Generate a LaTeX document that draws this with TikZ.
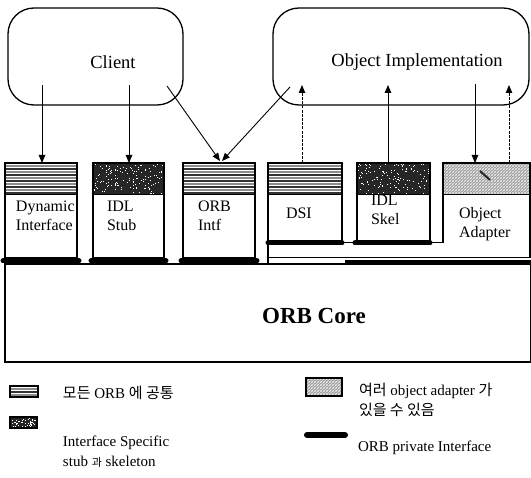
\documentclass[tikz,border=0pt]{standalone}
\usepackage{fontspec}
\setmainfont{Liberation Serif}
\newfontfamily\kr{Noto Sans CJK KR}
\usetikzlibrary{arrows.meta,patterns,calc}

% horizontal stripe band: x1, y1, x2, y2
\newcommand\hstripes[4]{%
  \fill[white] (#1,#2) rectangle (#3,#4);
  \pgfmathtruncatemacro\nst{(#4-#2-2)/3}%
  \foreach \c in {1,...,\nst}{%
    \pgfmathsetmacro\yy{#2+3*\c}%
    \ifodd\c\relax
      \draw[line width=1.1pt, black!45] (#1,\yy) -- (#3,\yy);
    \else
      \draw[line width=1.1pt, black!80] (#1,\yy) -- (#3,\yy);
    \fi
  }%
}
% dark speckled band: x1, y1, x2, y2, number of specks
\newcommand\noiseband[5]{%
  \fill[black!85] (#1,#2) rectangle (#3,#4);
  \foreach \i in {1,...,#5}{%
    \pgfmathsetmacro\px{#1+1+rnd*(#3-#1-2)}%
    \pgfmathsetmacro\py{#2+1+rnd*(#4-#2-2)}%
    \fill[white] (\px,\py) rectangle ++(1,1);
  }%
}
% grey diagonal mesh band: x1, y1, x2, y2
\newcommand\meshband[4]{%
  \fill[black!40] (#1,#2) rectangle (#3,#4);
  \fill[pattern=north east lines, pattern color=white] (#1,#2) rectangle (#3,#4);
  \fill[pattern=north west lines, pattern color=black!20] (#1,#2) rectangle (#3,#4);
}

\begin{document}
\begin{tikzpicture}[x=1pt,y=-1pt,
  every node/.style={inner sep=0pt, outer sep=0pt},
  cloud/.style={draw, line width=1.3pt, rounded corners=26pt, anchor=north west},
  unit/.style={draw, line width=1.5pt, anchor=north west},
  title/.style={font=\fontsize{18.5}{22}\selectfont},
  boxtext/.style={font=\fontsize{16}{19}\selectfont, align=left, anchor=north west},
  legtext/.style={font=\fontsize{15}{20}\selectfont, align=left, anchor=west},
  arr/.style={line width=0.9pt, -{Triangle[length=8pt,width=6.5pt]}},
  darr/.style={arr, dash pattern=on 3pt off 1.2pt},
  pbar/.style={line width=5pt, line cap=round},
  link/.style={line width=1pt},
]
\useasboundingbox (0,0) rectangle (531,478);
\pgfmathsetseed{11}

% ---- client and server sides
\node[cloud, minimum width=175pt, minimum height=97pt] (client) at (8,8) {};
\node[title] (clientlbl) at (113,62) {Client};
\node[cloud, minimum width=256pt, minimum height=97pt] (impl) at (273,8) {};
\node[title] (impllbl) at (417,62) {Object Implementation};

% ---- interface units (bands first, outlines on top)
\hstripes{5}{163}{77}{195}
\noiseband{93}{163}{164}{195}{140}
\hstripes{183}{163}{255}{195}
\hstripes{268}{163}{342}{195}
\noiseband{357}{163}{430}{195}{140}
\meshband{443}{163}{530}{195}
\draw[line width=2pt, black!85] (480,171) -- (490,180);

\node[unit, minimum width=72pt, minimum height=95pt] (dyn) at (5,163) {};
\node[unit, minimum width=71pt, minimum height=95pt] (stub) at (93,163) {};
\node[unit, minimum width=72pt, minimum height=95pt] (intf) at (183,163) {};
\node[unit, minimum width=74pt, minimum height=80pt] (dsi) at (268,163) {};
\node[unit, minimum width=73pt, minimum height=80pt] (skel) at (357,163) {};
\node[anchor=north west, minimum width=87pt, minimum height=80pt] (oa) at (443,163) {};
\draw[line width=1.5pt] (oa.south west) -- (oa.north west) -- (oa.north east) -- ($(oa.north east)+(0,95)$);

\foreach \b in {dyn,stub,intf,dsi,skel}{
  \draw[line width=1pt] ($(\b.north west)+(0,32)$) -- ($(\b.north east)+(0,32)$);
}
\draw[line width=1pt] ($(oa.north west)+(0,32)$) -- ($(oa.north east)+(0,32)$);

\node[boxtext] (dynlbl) at (16,201) {Dynamic\\Interface};
\node[boxtext] (stublbl) at (107,201) {IDL\\Stub};
\node[boxtext] (intflbl) at (198,201) {ORB\\Intf};
\node[boxtext] (dsilbl) at (286,208) {DSI};
\node[boxtext] (skellbl) at (371,195) {IDL\\Skel};
\node[boxtext] (oalbl) at (459,207) {Object\\Adapter};

% ---- ORB core
\node[draw, line width=1.3pt, anchor=north west, minimum width=526pt, minimum height=98pt] (core) at (5,264) {};
\node[font=\fontsize{23}{27}\selectfont\bfseries] (corelbl) at (314,316) {ORB Core};

% ---- private interface bars
\draw[pbar] ($(dyn.south west)+(-2,3)$) -- ($(dyn.south east)+(2,3)$);
\draw[pbar] ($(stub.south west)+(-2,3)$) -- ($(stub.south east)+(2,3)$);
\draw[pbar] ($(intf.south west)+(-2,3)$) -- ($(intf.south east)+(2,3)$);
\draw[pbar] (dsi.south west) -- (dsi.south east);
\draw[pbar] ($(skel.south west)+(-2,0)$) -- (skel.south east);
\draw[link] (dsi.south east) -- (skel.south west);
\draw[link] (skel.south east) -- (oa.south west);
\draw[line width=1.5pt] (dsi.south west) -- ($(dsi.south west)+(0,20)$);
\draw[link] ($(dsi.south west)+(0,15)$) -- ($(oa.south east)+(0,15)$);
\draw[line width=5pt] ($(skel.south west)+(-12,20)$) -- ($(oa.south east)+(1,20)$);

% ---- invocation paths
\coordinate (c1) at (42,85);
\coordinate (c2) at (129,85);
\coordinate (c3) at (167,86);
\coordinate (i1) at (290,87);
\coordinate (i2) at (302,85);
\coordinate (i3) at (388,85);
\coordinate (i4) at (475,84);
\coordinate (i5) at (509,85);
\draw[arr] (c1) -- (c1 |- dyn.north);
\draw[arr] (c2) -- (c2 |- stub.north);
\draw[arr] (c3) -- ($(intf.north)+(1,-2)$);
\draw[arr] (i1) -- ($(intf.north)+(3,-2)$);
\draw[darr] (i2 |- dsi.north) -- (i2);
\draw[arr] (i3 |- skel.north) -- (i3);
\draw[arr] (i4) -- (i4 |- oa.north);
\draw[darr] (i5 |- oa.north) -- (i5);

% ---- legend
\hstripes{10}{386}{38}{397}
\draw[line width=1.2pt] (10,386) rectangle (38,397);
\node[legtext] (leg1) at (63,393) {{\kr 모든} ORB {\kr 에 공통}};

\noiseband{10}{417}{37}{428}{50}
\draw[line width=1.2pt] (10,417) rectangle (37,428);
\node[legtext, anchor=north west] (leg2) at (63,436) {Interface Specific\\stub {\kr\fontsize{11}{12}\selectfont 과} skeleton};

\meshband{306}{378}{342}{396}
\draw[line width=1.2pt] (306,378) rectangle (342,396);
\node[legtext, anchor=north west] (leg3) at (359,383) {{\kr 여러} object adapter {\kr 가}\\{\kr 있을 수 있음}};

\coordinate (lb1) at (307,435);
\coordinate (lb2) at (345,435);
\draw[pbar, line width=6pt] (lb1) -- (lb2);
\node[legtext] (leg4) at (358,448) {ORB private Interface};
\end{tikzpicture}
\end{document}
